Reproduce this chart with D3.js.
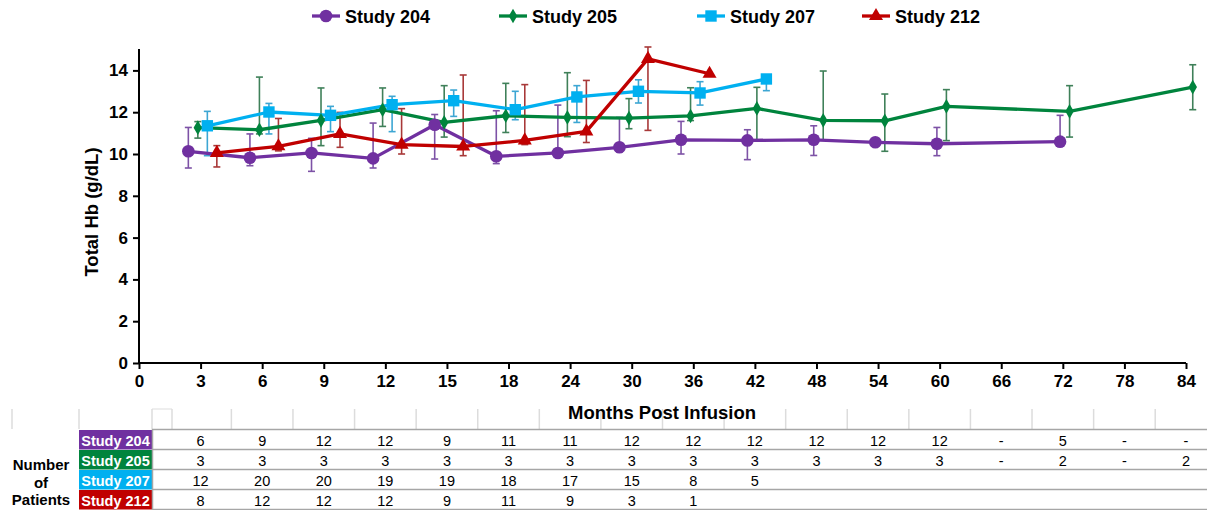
<!DOCTYPE html>
<html><head><meta charset="utf-8">
<script src="https://cdn.jsdelivr.net/npm/d3@7"></script>
<style>
html,body{margin:0;padding:0;background:#fff;}
svg{display:block;font-family:"Liberation Sans",Arial,sans-serif;}
</style></head>
<body><svg id="c" width="1207" height="510"></svg>
<script>
// ---------- data ----------
const categories = ["0","3","6","9","12","15","18","24","30","36","42","48","54","60","66","72","78","84"];
const yTicks = [0,2,4,6,8,10,12,14];
const seriesNames = ["Study 204","Study 205","Study 207","Study 212"];
const seriesColors = ["#7030A0","#00843D","#00B0F0","#C00000"];
const barColors = ["#7D52A6","#3F8059","#3DA6D3","#A83838"];

const months204 = ["3","6","9","12","15","18","24","30","36","42","48","54","60","72"];
const mean204  = [10.13,9.82,10.05,9.79,11.40,9.89,10.05,10.32,10.68,10.65,10.68,10.56,10.49,10.59];
const upper204 = [11.27,10.96,10.75,11.48,11.89,12.07,12.34,11.75,11.56,11.16,11.35,10.70,11.27,11.85];
const lower204 = [9.33,9.44,9.17,9.33,9.76,9.54,9.85,10.10,10.00,9.73,9.93,10.42,9.92,10.40];

const months205 = ["3","6","9","12","15","18","24","30","36","42","48","54","60","72","84"];
const mean205  = [11.26,11.16,11.61,12.12,11.51,11.83,11.75,11.72,11.82,12.18,11.61,11.59,12.28,12.04,13.20];
const upper205 = [11.55,13.68,13.16,13.16,13.27,13.38,13.89,12.65,13.17,13.19,13.97,12.87,13.08,13.27,14.27];
const lower205 = [10.76,10.96,10.40,11.32,10.81,11.03,10.83,11.21,11.60,10.68,10.68,10.13,10.64,10.81,12.12];

const months207 = ["3","6","9","12","15","18","24","30","36","42"];
const mean207  = [11.35,12.01,11.85,12.36,12.55,12.12,12.73,13.00,12.92,13.59];
const upper207 = [12.04,12.42,12.28,12.76,13.06,13.00,13.27,13.55,13.46,13.75];
const lower207 = [9.92,10.96,11.07,11.07,11.80,11.64,11.51,12.44,12.34,13.03];

const months212 = ["3","6","9","12","15","18","24","30","36"];
const mean212  = [10.05,10.37,10.96,10.45,10.36,10.65,11.08,14.55,13.84];
const upper212 = [10.40,11.70,11.99,12.17,13.78,13.32,13.52,15.12,13.84];
const lower212 = [9.38,10.15,10.32,10.00,9.92,10.45,10.55,11.13,13.84];

const count204 = ["6","9","12","12","9","11","11","12","12","12","12","12","12","-","5","-","-"];
const count205 = ["3","3","3","3","3","3","3","3","3","3","3","3","3","-","2","-","2"];
const count207 = ["12","20","20","19","19","18","17","15","8","5"];
const count212 = ["8","12","12","12","9","11","9","3","1"];

const xTitle = "Months Post Infusion";
const yTitle = "Total Hb (g/dL)";

// ---------- build ----------
const series = [
  {months:months204, mean:mean204, upper:upper204, lower:lower204, counts:count204, shape:"circle"},
  {months:months205, mean:mean205, upper:upper205, lower:lower205, counts:count205, shape:"diamond"},
  {months:months207, mean:mean207, upper:upper207, lower:lower207, counts:count207, shape:"square"},
  {months:months212, mean:mean212, upper:upper212, lower:lower212, counts:count212, shape:"triangle"}
];

const svg = d3.select("#c");
const font = '"Liberation Sans",Arial,sans-serif';
const x = d3.scalePoint().domain(categories).range([139,1186]);
const y = d3.scaleLinear().domain([0,15]).range([363,49.5]);

function offsetFor(si, m){
  const present = series.map((s,i)=>s.months.includes(m)?i:-1).filter(i=>i>=0);
  let n = present.length, slot = present.indexOf(si);
  if(n===1){ n=2; slot=1; }
  return (slot-(n-1)/2)*9.5 + 2;
}

const symbolFor = {
  circle: d3.symbol().type(d3.symbolCircle).size(125),
  diamond: d3.symbol().type(d3.symbolDiamond).size(62),
  square: d3.symbol().type(d3.symbolSquare).size(130),
  triangle: d3.symbol().type(d3.symbolTriangle).size(85)
};

// axes
const yAxis = d3.axisLeft(y).tickValues(yTicks).tickSize(6).tickPadding(5);
const gy = svg.append("g").attr("transform","translate(139,0)").call(yAxis);
gy.select(".domain").attr("stroke","#000").attr("stroke-width",2).attr("d","M0,"+y(0)+"V49");
gy.selectAll(".tick line").attr("stroke","#000").attr("stroke-width",2);
gy.selectAll("text").attr("font-family",font).attr("font-size",17).attr("font-weight","bold").attr("fill","#000");

const xAxis = d3.axisBottom(x).tickSize(6).tickPadding(6);
const gx = svg.append("g").attr("transform","translate(0,363)").call(xAxis);
gx.select(".domain").attr("stroke","#000").attr("stroke-width",2).attr("d","M139,0H1186");
gx.selectAll(".tick line").attr("stroke","#000").attr("stroke-width",2);
gx.selectAll("text").attr("font-family",font).attr("font-size",17).attr("font-weight","bold").attr("fill","#000");

svg.append("text").attr("transform","translate(98,212) rotate(-90)")
  .attr("text-anchor","middle").attr("font-family",font).attr("font-size",18.5).attr("font-weight","bold")
  .text(yTitle);

// error bars
series.forEach((s,si)=>{
  const g = svg.append("g").attr("stroke",barColors[si]).attr("stroke-width",1.6).attr("fill","none");
  s.months.forEach((m,i)=>{
    if(s.upper[i]===s.lower[i]) return;
    const cx = x(m)+offsetFor(si,m);
    g.append("line").attr("x1",cx).attr("x2",cx).attr("y1",y(s.upper[i])).attr("y2",y(s.lower[i]));
    g.append("line").attr("x1",cx-3.5).attr("x2",cx+3.5).attr("y1",y(s.upper[i])).attr("y2",y(s.upper[i]));
    g.append("line").attr("x1",cx-3.5).attr("x2",cx+3.5).attr("y1",y(s.lower[i])).attr("y2",y(s.lower[i]));
  });
});

// lines
series.forEach((s,si)=>{
  const pts = s.months.map((m,i)=>[x(m)+offsetFor(si,m), y(s.mean[i])]);
  svg.append("path").attr("d",d3.line()(pts)).attr("fill","none")
    .attr("stroke",seriesColors[si]).attr("stroke-width",3.3).attr("stroke-linejoin","round");
});
// markers
series.forEach((s,si)=>{
  s.months.forEach((m,i)=>{
    svg.append("path").attr("d",symbolFor[s.shape]())
      .attr("transform",`translate(${x(m)+offsetFor(si,m)},${y(s.mean[i])})`)
      .attr("fill",seriesColors[si]);
  });
});

// legend
const legendX = [326,513,711,876];
seriesNames.forEach((n,i)=>{
  const g = svg.append("g").attr("transform",`translate(${legendX[i]},16)`);
  g.append("line").attr("x1",-14).attr("x2",14).attr("stroke",seriesColors[i]).attr("stroke-width",3.3);
  g.append("path").attr("d",symbolFor[series[i].shape]()).attr("fill",seriesColors[i]);
  g.append("text").attr("x",19).attr("y",6.5).attr("font-family",font).attr("font-size",18)
    .attr("font-weight","bold").text(n);
});

// table
const tick = categories.slice(1);
const hdr = svg.append("g");
hdr.append("line").attr("x1",152).attr("x2",172).attr("y1",409).attr("y2",409).attr("stroke","#ddd");
const sepX = [12,79,152,172];
for(let i=1;i<tick.length;i++) sepX.push((x(tick[i-1])+x(tick[i]))/2);
sepX.forEach(sx=>hdr.append("line").attr("x1",sx).attr("x2",sx).attr("y1",409).attr("y2",429)
  .attr("stroke","#dcdcdc").attr("stroke-width",1.5));

svg.append("text").attr("x",662).attr("y",418.5).attr("text-anchor","middle").attr("font-family",font)
  .attr("font-size",18.5).attr("font-weight","bold").text(xTitle);

const rowTop = [430,450,470,490];
rowTop.forEach((ry,ri)=>{
  svg.append("rect").attr("x",79).attr("y",ry).attr("width",73).attr("height",19.5).attr("fill",seriesColors[ri]);
  svg.append("text").attr("x",115.5).attr("y",ry+15.5).attr("text-anchor","middle").attr("fill","#fff")
    .attr("font-family",font).attr("font-size",14.5).attr("font-weight","bold").text(seriesNames[ri]);
  series[ri].counts.forEach((c,ci)=>{
    svg.append("text").attr("x",x(tick[ci])).attr("y",ry+15.5).attr("text-anchor","middle")
      .attr("font-family",font).attr("font-size",14.5).attr("fill","#000").text(c);
  });
});
[429.5,449.5,469.5,489.5,509.5].forEach(ly=>{
  svg.append("line").attr("x1",152).attr("x2",1207).attr("y1",ly).attr("y2",ly)
    .attr("stroke","#a6a6a6").attr("stroke-width",1.5);
});
svg.append("line").attr("x1",152.5).attr("x2",152.5).attr("y1",429).attr("y2",510).attr("stroke","#a6a6a6").attr("stroke-width",1.5);

["Number","of","Patients"].forEach((t,i)=>{
  svg.append("text").attr("x",41).attr("y",470+i*17.5).attr("text-anchor","middle").attr("font-family",font)
    .attr("font-size",15).attr("font-weight","bold").text(t);
});
</script></body></html>
